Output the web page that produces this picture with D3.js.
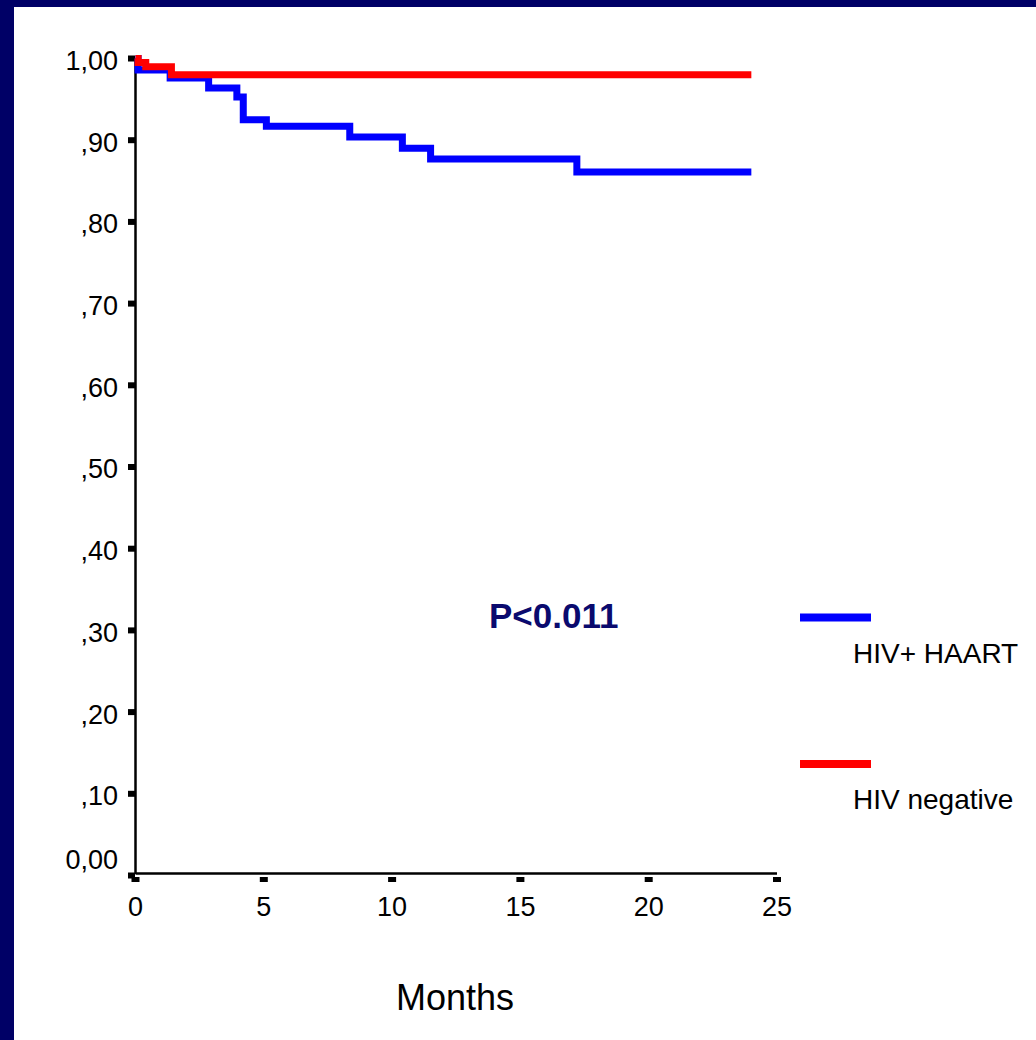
<!DOCTYPE html>
<html>
<head>
<meta charset="utf-8">
<script src="https://cdn.jsdelivr.net/npm/d3@7"></script>
<style>
  body { margin: 0; background: #fff; }
  text { font-family: Arial, "Liberation Sans", sans-serif; }
</style>
</head>
<body>
<div id="chart"></div>
<script>
// Kaplan-Meier steps
const blueTimes = [0, 0.1, 1.35, 2.85, 3.95, 4.2, 5.1, 8.35, 10.4, 11.5, 17.2, 24];
const blueSurv  = [1.0, 0.986, 0.976, 0.964, 0.953, 0.925, 0.917, 0.904, 0.890, 0.877, 0.861, 0.861];
const redTimes  = [0, 0.1, 0.4, 1.4, 24];
const redSurv   = [1.0, 0.995, 0.990, 0.980, 0.980];

const yTicks = [0, 0.1, 0.2, 0.3, 0.4, 0.5, 0.6, 0.7, 0.8, 0.9, 1.0];
const yTickLabels = ["0,00", ",10", ",20", ",30", ",40", ",50", ",60", ",70", ",80", ",90", "1,00"];
const xTicks = [0, 5, 10, 15, 20, 25];

const seriesNames = ["HIV+ HAART", "HIV negative"];
const seriesColors = ["#0000ff", "#ff0000"];

const W = 1036, H = 1040;
const navy = "#000066";

const svg = d3.select("#chart").append("svg")
  .attr("width", W)
  .attr("height", H);

// frame
svg.append("rect").attr("width", W).attr("height", H).attr("fill", navy);
svg.append("rect").attr("x", 14).attr("y", 7).attr("width", W - 14).attr("height", H - 7).attr("fill", "#fff");

const x = d3.scaleLinear().domain([0, 25]).range([135.5, 777]);
const y = d3.scaleLinear().domain([0, 1]).range([875.5, 58.5]);

// axes
svg.append("line")
  .attr("x1", x(0)).attr("x2", x(0))
  .attr("y1", y(1)).attr("y2", 874)
  .attr("stroke", "#000").attr("stroke-width", 2.5);
svg.append("line")
  .attr("x1", x(0)).attr("x2", x(25))
  .attr("y1", 873.5).attr("y2", 873.5)
  .attr("stroke", "#000").attr("stroke-width", 2.5);

// y ticks (small squares) + labels
svg.selectAll(".ytick")
  .data(yTicks)
  .enter().append("rect")
  .attr("class", "ytick")
  .attr("x", 128).attr("y", d => y(d) - 3)
  .attr("width", 7).attr("height", 6)
  .attr("fill", "#000");

svg.selectAll(".ylab")
  .data(yTicks)
  .enter().append("text")
  .attr("class", "ylab")
  .attr("x", 118)
  .attr("y", d => d === 0 ? y(d) - 16 : y(d) + 2)
  .attr("dy", "0.35em")
  .attr("text-anchor", "end")
  .style("font-size", "27px")
  .attr("fill", "#000")
  .text((d, i) => yTickLabels[i]);

// x ticks + labels
svg.selectAll(".xtick")
  .data(xTicks)
  .enter().append("rect")
  .attr("class", "xtick")
  .attr("x", d => x(d) - 4).attr("y", 877)
  .attr("width", 8).attr("height", 5)
  .attr("fill", "#000");

svg.selectAll(".xlab")
  .data(xTicks)
  .enter().append("text")
  .attr("class", "xlab")
  .attr("x", d => x(d))
  .attr("y", 916)
  .attr("text-anchor", "middle")
  .style("font-size", "27px")
  .attr("fill", "#000")
  .text(d => d);

// axis title
svg.append("text")
  .attr("x", 455).attr("y", 1010)
  .attr("text-anchor", "middle")
  .style("font-size", "36px")
  .attr("fill", "#000")
  .text("Months");

// survival curves
const line = d3.line()
  .x(d => x(d[0]))
  .y(d => y(d[1]))
  .curve(d3.curveStepAfter);

const blueData = blueTimes.map((t, i) => [t, blueSurv[i]]);
const redData = redTimes.map((t, i) => [t, redSurv[i]]);

svg.append("path")
  .datum(blueData)
  .attr("d", line)
  .attr("fill", "none")
  .attr("stroke", seriesColors[0])
  .attr("stroke-width", 7);

svg.append("path")
  .datum(redData)
  .attr("d", line)
  .attr("fill", "none")
  .attr("stroke", seriesColors[1])
  .attr("stroke-width", 7);

// p value
svg.append("text")
  .attr("x", 489).attr("y", 628)
  .style("font-size", "35px")
  .style("font-weight", "bold")
  .attr("fill", "#0a0a6e")
  .text("P<0.011");

// legend
const legendY = [617.5, 764];
const legendTextY = [663, 809];
seriesNames.forEach((name, i) => {
  svg.append("rect")
    .attr("x", 800).attr("y", legendY[i] - 4)
    .attr("width", 71).attr("height", 8)
    .attr("fill", seriesColors[i]);
  svg.append("text")
    .attr("x", 853).attr("y", legendTextY[i])
    .style("font-size", "28px")
    .attr("fill", "#000")
    .text(name);
});
</script>
</body>
</html>
